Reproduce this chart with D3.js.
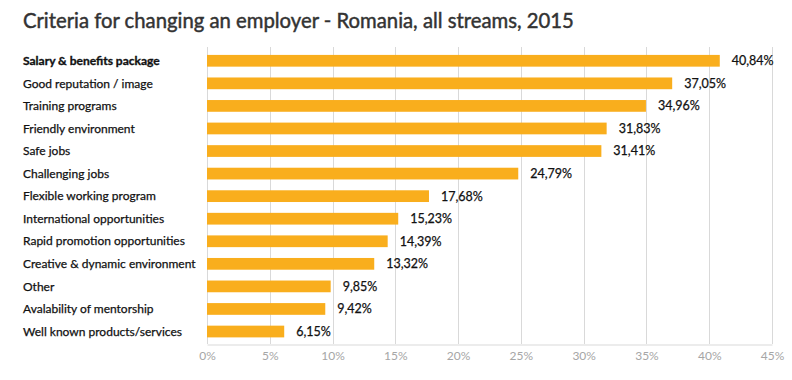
<!DOCTYPE html>
<html><head><meta charset="utf-8">
<script src="https://cdn.jsdelivr.net/npm/d3@7"></script>
<style>body{margin:0;background:#fff}svg{display:block}</style>
</head><body>
<svg id="c" width="792" height="380"></svg>
<script>
const title = "Criteria for changing an employer - Romania, all streams, 2015";
const categories = ["Salary & benefits package","Good reputation / image","Training programs","Friendly environment","Safe jobs","Challenging jobs","Flexible working program","International opportunities","Rapid promotion opportunities","Creative & dynamic environment","Other","Avalability of mentorship","Well known products/services"];
const values = [40.84,37.05,34.96,31.83,31.41,24.79,17.68,15.23,14.39,13.32,9.85,9.42,6.15];
const tickValues = [0,5,10,15,20,25,30,35,40,45];

const svg = d3.select("#c");
const font = "Lato, 'Open Sans', sans-serif";
const x = d3.scaleLinear().domain([0,45]).range([207,772]);
const y = d3.scaleBand().domain(categories).range([49.5,342.8]).paddingInner(0.48).paddingOuter(0.24);

svg.append("text").attr("x",23).attr("y",28).attr("font-family",font).attr("font-size",20.3)
  .attr("fill","#333").attr("stroke","#333").attr("stroke-width",0.45).text(title);

// gridlines
svg.append("g").selectAll("line").data(tickValues).join("line")
  .attr("x1",d=>Math.round(x(d))+0.5).attr("x2",d=>Math.round(x(d))+0.5)
  .attr("y1",47).attr("y2",344).attr("stroke","#d9d9d9").attr("stroke-width",1);

// axis
const axis = d3.axisBottom(x).tickValues(tickValues).tickSize(0).tickPadding(7).tickFormat(d=>d+"%");
const ag = svg.append("g").attr("transform","translate(0,344.5)").call(axis);
ag.select(".domain").attr("stroke","#d9d9d9");
ag.selectAll("text").attr("font-family",font).attr("font-size",12).attr("fill","#a6a6a6");

// bars
svg.append("g").selectAll("rect").data(values).join("rect")
  .attr("x",x(0)).attr("y",(d,i)=>y(categories[i]))
  .attr("width",d=>x(d)-x(0)).attr("height",y.bandwidth()).attr("fill","#F9AE1D");

// value labels
svg.append("g").selectAll("text").data(values).join("text")
  .attr("x",d=>x(d)+12).attr("y",(d,i)=>y(categories[i])+y.bandwidth()/2)
  .attr("dy","0.35em").attr("font-family",font).attr("font-size",12.5).attr("fill","#111")
  .attr("stroke","#111").attr("stroke-width",0.25)
  .text(d=>d.toFixed(2).replace(".",",")+"%");

// category labels
svg.append("g").selectAll("text").data(categories).join("text")
  .attr("x",23).attr("y",d=>y(d)+y.bandwidth()/2).attr("dy","0.35em")
  .attr("font-family",font).attr("font-size",12).attr("fill","#111")
  .attr("stroke","#111").attr("stroke-width",(d,i)=>i===0?0.35:0.25)
  .attr("font-weight",(d,i)=>i===0?"bold":"normal").text(d=>d);
</script>
</body></html>
